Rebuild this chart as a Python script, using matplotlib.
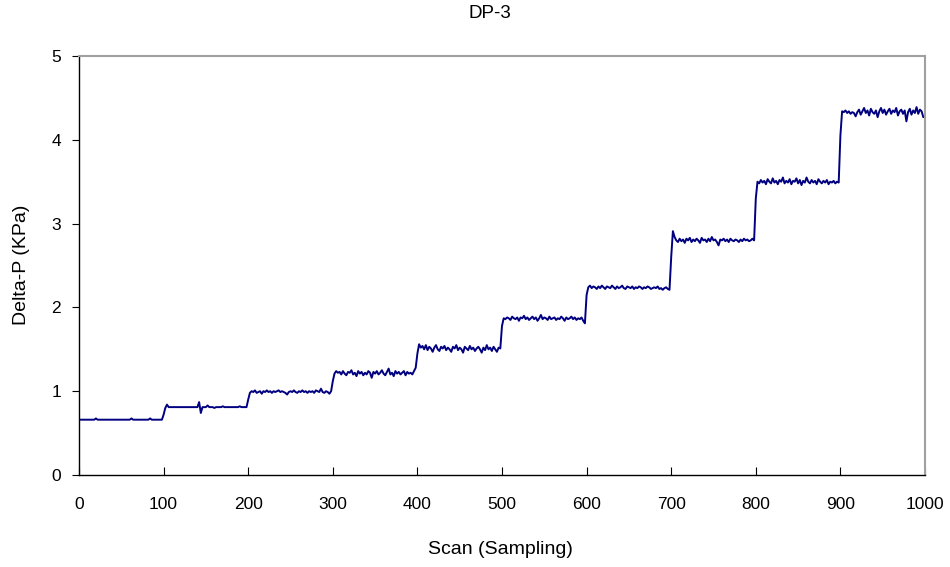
import numpy as np
import matplotlib
matplotlib.use("Agg")
import matplotlib.pyplot as plt

# scan positions, one reading every 2 scans
scan = np.arange(0, 1001, 2)

# pressure readings (KPa) per step, 50 values each (last step also has scan 1000)
seg0 = [0.66, 0.66, 0.66, 0.66, 0.66, 0.66, 0.66, 0.66, 0.66, 0.66,
        0.675, 0.66, 0.66, 0.66, 0.66, 0.66, 0.66, 0.66, 0.66, 0.66,
        0.66, 0.66, 0.66, 0.66, 0.66, 0.66, 0.66, 0.66, 0.66, 0.66,
        0.66, 0.675, 0.66, 0.66, 0.66, 0.66, 0.66, 0.66, 0.66, 0.66,
        0.66, 0.66, 0.675, 0.66, 0.66, 0.66, 0.66, 0.66, 0.66, 0.66]
seg1 = [0.72, 0.80, 0.84, 0.81, 0.81, 0.81, 0.81, 0.81, 0.81, 0.81,
        0.81, 0.81, 0.81, 0.81, 0.81, 0.81, 0.81, 0.81, 0.81, 0.81,
        0.81, 0.87, 0.74, 0.81, 0.81, 0.81, 0.83, 0.81, 0.81, 0.81,
        0.80, 0.81, 0.81, 0.81, 0.81, 0.82, 0.81, 0.81, 0.81, 0.81,
        0.81, 0.81, 0.81, 0.81, 0.81, 0.82, 0.81, 0.81, 0.81, 0.81]
seg2 = [0.90, 0.98, 1.00, 0.99, 1.01, 0.98, 0.99, 1.00, 0.97, 1.00,
        0.99, 1.01, 0.99, 1.00, 0.98, 1.00, 0.99, 1.00, 1.01, 0.99,
        1.00, 0.99, 0.98, 0.96, 0.99, 1.00, 0.99, 1.01, 0.99, 0.98,
        1.00, 0.99, 1.01, 0.99, 1.00, 0.98, 1.00, 0.99, 1.00, 0.98,
        1.01, 1.00, 0.99, 1.03, 0.99, 0.98, 1.00, 0.99, 0.97, 1.00]
seg3 = [1.12, 1.21, 1.24, 1.22, 1.23, 1.20, 1.24, 1.21, 1.19, 1.23,
        1.22, 1.25, 1.20, 1.22, 1.18, 1.24, 1.21, 1.23, 1.19, 1.22,
        1.20, 1.24, 1.22, 1.16, 1.23, 1.21, 1.24, 1.20, 1.22, 1.25,
        1.21, 1.19, 1.23, 1.27, 1.20, 1.22, 1.18, 1.24, 1.21, 1.23,
        1.20, 1.22, 1.24, 1.19, 1.23, 1.21, 1.22, 1.20, 1.24, 1.28]
seg4 = [1.45, 1.56, 1.52, 1.54, 1.50, 1.55, 1.49, 1.53, 1.51, 1.47,
        1.52, 1.55, 1.50, 1.48, 1.53, 1.51, 1.54, 1.49, 1.52, 1.50,
        1.47, 1.53, 1.51, 1.55, 1.49, 1.52, 1.50, 1.46, 1.53, 1.51,
        1.49, 1.54, 1.50, 1.52, 1.48, 1.51, 1.53, 1.50, 1.46, 1.52,
        1.49, 1.55, 1.50, 1.52, 1.48, 1.53, 1.50, 1.47, 1.52, 1.51]
seg5 = [1.78, 1.87, 1.86, 1.88, 1.87, 1.85, 1.89, 1.87, 1.86, 1.88,
        1.84, 1.88, 1.87, 1.90, 1.86, 1.88, 1.85, 1.87, 1.89, 1.86,
        1.88, 1.84, 1.87, 1.91, 1.86, 1.88, 1.87, 1.85, 1.89, 1.86,
        1.87, 1.88, 1.85, 1.87, 1.86, 1.89, 1.87, 1.84, 1.88, 1.86,
        1.87, 1.89, 1.86, 1.88, 1.85, 1.87, 1.86, 1.88, 1.84, 1.81]
seg6 = [2.15, 2.24, 2.26, 2.23, 2.25, 2.24, 2.22, 2.25, 2.23, 2.26,
        2.24, 2.22, 2.25, 2.24, 2.23, 2.26, 2.24, 2.22, 2.25, 2.23,
        2.24, 2.26, 2.23, 2.22, 2.25, 2.24, 2.23, 2.25, 2.22, 2.24,
        2.23, 2.25, 2.24, 2.22, 2.24, 2.23, 2.25, 2.24, 2.22, 2.23,
        2.24, 2.23, 2.25, 2.22, 2.23, 2.21, 2.23, 2.24, 2.22, 2.21]
seg7 = [2.60, 2.91, 2.84, 2.80, 2.78, 2.82, 2.79, 2.81, 2.77, 2.82,
        2.80, 2.83, 2.78, 2.81, 2.79, 2.82, 2.80, 2.77, 2.83, 2.80,
        2.81, 2.78, 2.82, 2.79, 2.84, 2.80, 2.81, 2.78, 2.74, 2.81,
        2.80, 2.82, 2.79, 2.81, 2.78, 2.82, 2.80, 2.79, 2.81, 2.80,
        2.78, 2.81, 2.79, 2.82, 2.80, 2.81, 2.79, 2.80, 2.82, 2.80]
seg8 = [3.30, 3.50, 3.48, 3.52, 3.49, 3.51, 3.47, 3.53, 3.50, 3.48,
        3.54, 3.49, 3.51, 3.47, 3.52, 3.50, 3.55, 3.48, 3.51, 3.49,
        3.53, 3.47, 3.51, 3.50, 3.54, 3.48, 3.52, 3.46, 3.51, 3.49,
        3.55, 3.50, 3.48, 3.52, 3.49, 3.51, 3.47, 3.53, 3.50, 3.48,
        3.51, 3.49, 3.52, 3.47, 3.50, 3.49, 3.51, 3.48, 3.50, 3.49]
seg9 = [4.05, 4.34, 4.33, 4.35, 4.32, 4.34, 4.31, 4.33, 4.32, 4.28,
        4.33, 4.36, 4.30, 4.34, 4.38, 4.32, 4.35, 4.29, 4.37, 4.33,
        4.31, 4.35, 4.27, 4.34, 4.38, 4.32, 4.36, 4.30, 4.34, 4.37,
        4.31, 4.35, 4.33, 4.38, 4.29, 4.34, 4.36, 4.31, 4.35, 4.22,
        4.33, 4.37, 4.30, 4.35, 4.32, 4.39, 4.31, 4.36, 4.34, 4.27,
        4.28]

delta_p = seg0 + seg1 + seg2 + seg3 + seg4 + seg5 + seg6 + seg7 + seg8 + seg9

x_ticks = list(range(0, 1001, 100))
y_ticks = [0, 1, 2, 3, 4, 5]

plt.rcParams['font.family'] = ['Liberation Sans', 'DejaVu Sans']

fig = plt.figure(figsize=(9.5, 5.67), dpi=100)
ax = fig.add_axes([79 / 950, 92 / 567, 846 / 950, 419 / 567])

ax.plot(scan, delta_p, color='#000080', lw=1.4)

ax.set_xlim(0, 1000)
ax.set_ylim(0, 5)
ax.set_xticks(x_ticks)
ax.set_yticks(y_ticks)
ax.tick_params(axis='x', direction='in', length=6, pad=16, labelsize=12.5)
ax.tick_params(axis='y', direction='out', length=5, pad=8, labelsize=12.5)

for side in ['top', 'right']:
    ax.spines[side].set_color('#a0a0a0')
    ax.spines[side].set_linewidth(1.5)
for side in ['left', 'bottom']:
    ax.spines[side].set_color('black')
    ax.spines[side].set_linewidth(1.0)

fig.text(490 / 950, 1 - 14 / 567, 'DP-3', ha='center', va='center', fontsize=13.5)
fig.text(500 / 950, 1 - 549 / 567, 'Scan (Sampling)', ha='center', va='center', fontsize=14)
fig.text(22 / 950, 1 - 265 / 567, 'Delta-P (KPa)', ha='center', va='center',
         rotation=90, fontsize=14)

fig.savefig('out.png', dpi=100)
